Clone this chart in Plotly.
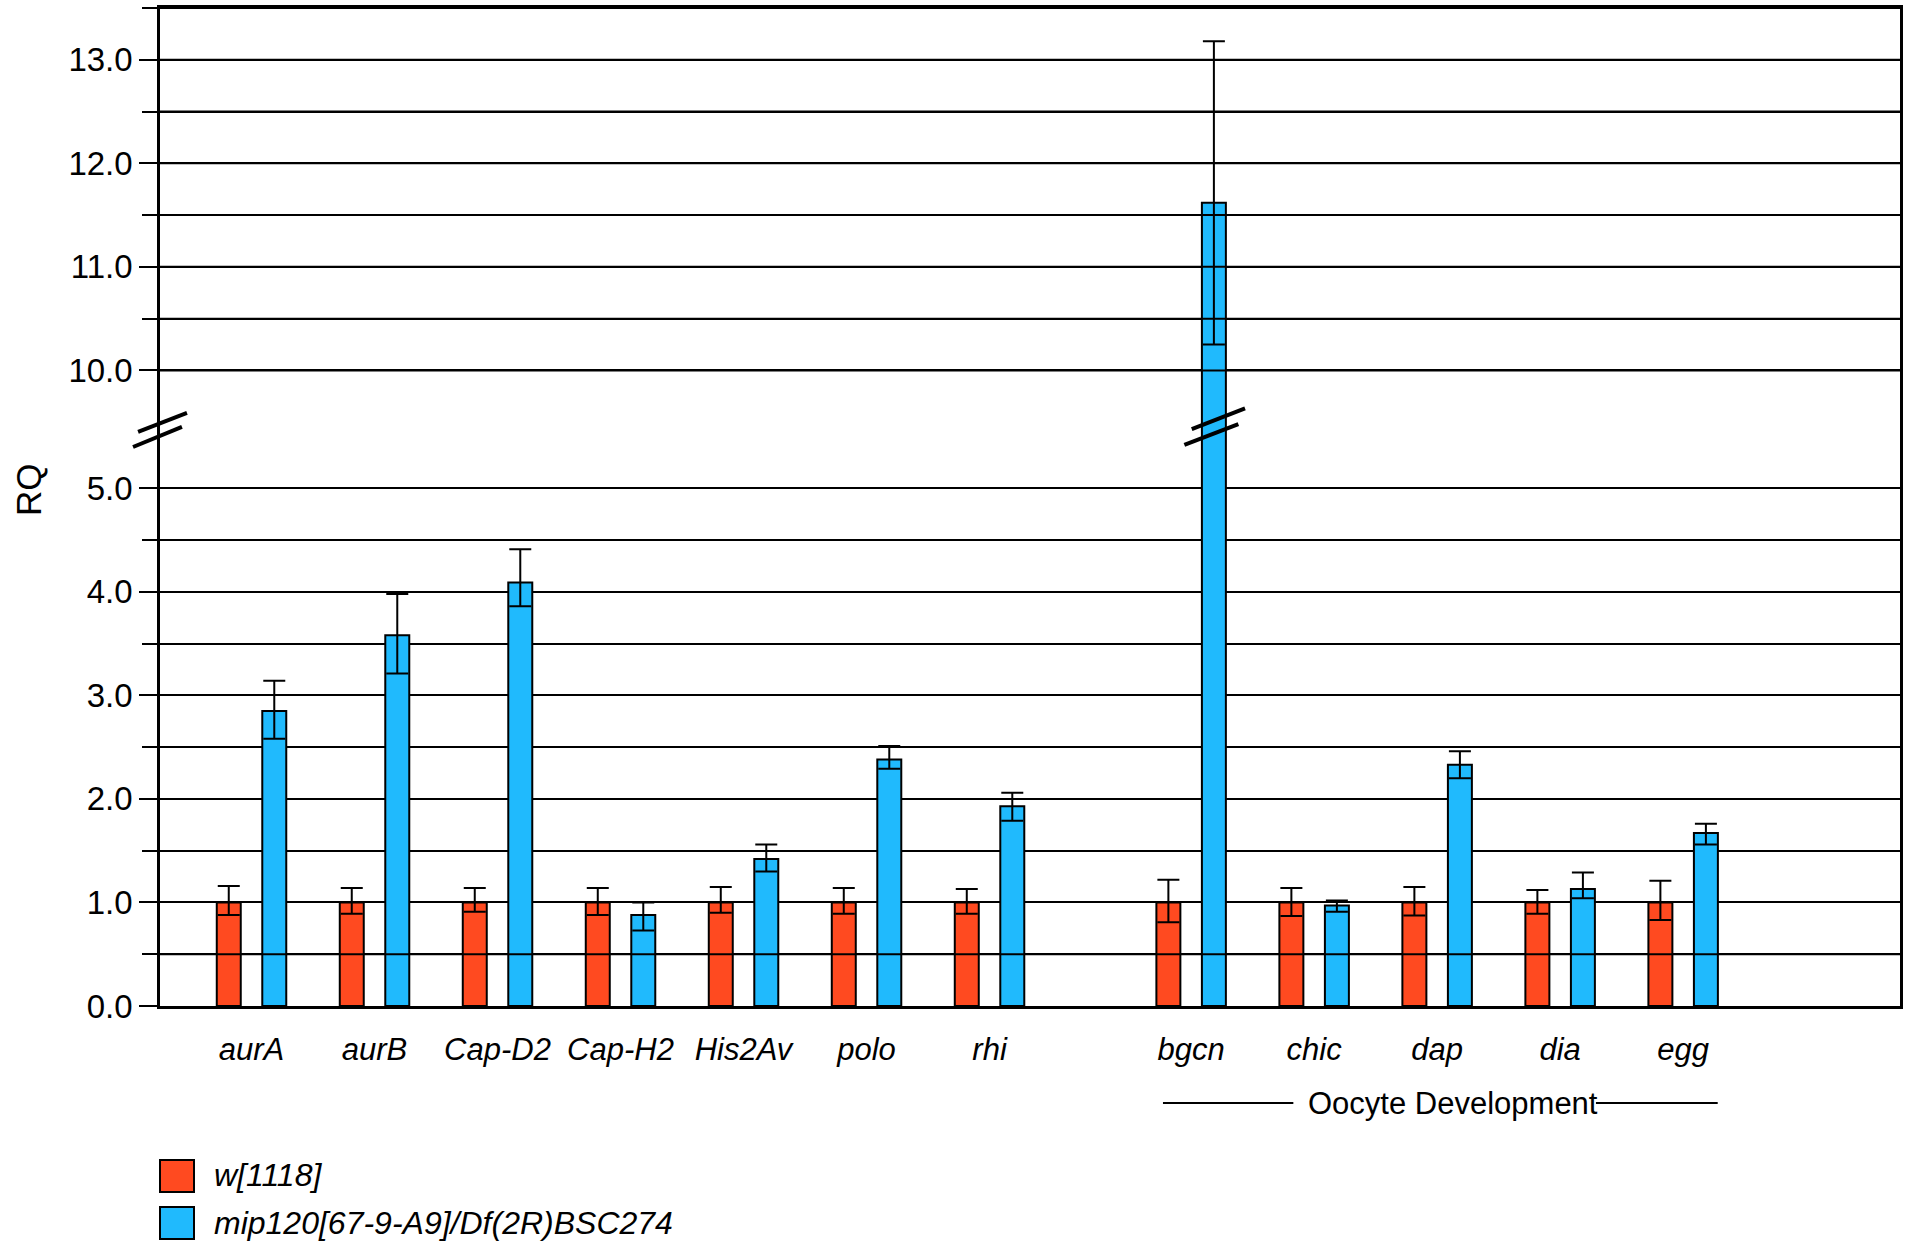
import plotly.graph_objects as go

# ---------------- data ----------------
genes = ["aurA", "aurB", "Cap-D2", "Cap-H2", "His2Av", "polo", "rhi",
         "bgcn", "chic", "dap", "dia", "egg"]
w1118 = [1.00, 1.00, 1.00, 1.00, 1.00, 1.00, 1.00, 1.00, 1.00, 1.00, 1.00, 1.00]
w1118_hi = [1.16, 1.14, 1.14, 1.14, 1.15, 1.14, 1.13, 1.22, 1.14, 1.15, 1.12, 1.21]
w1118_lo = [0.88, 0.89, 0.91, 0.88, 0.90, 0.89, 0.89, 0.81, 0.87, 0.875, 0.89, 0.83]
mip120 = [2.85, 3.58, 4.09, 0.88, 1.42, 2.38, 1.93, 11.62, 0.97, 2.33, 1.13, 1.67]
mip120_hi = [3.14, 3.98, 4.41, 1.00, 1.56, 2.51, 2.06, 13.18, 1.02, 2.46, 1.29, 1.76]
mip120_lo = [2.58, 3.21, 3.86, 0.73, 1.30, 2.29, 1.79, 10.25, 0.91, 2.20, 1.04, 1.56]
lower_ticks = [0.0, 1.0, 2.0, 3.0, 4.0, 5.0]
upper_ticks = [10.0, 11.0, 12.0, 13.0]
lower_minor = [0.5, 1.5, 2.5, 3.5, 4.5]
upper_minor = [10.5, 11.5, 12.5, 13.5]
series_names = ["w[1118]", "mip120[67-9-A9]/Df(2R)BSC274"]
group_label = "Oocyte Development"

# ---------------- styling / layout helpers ----------------
RED = "#FF4A20"
BLUE = "#20BAFD"
FONT = "Liberation Sans, Arial, sans-serif"
BREAK_AT = 5.6      # values above this are in the upper (broken) segment
SHIFT = 3.862       # amount removed from upper-segment values
TOP = 13.5


def tr(v):
    return v - SHIFT if v > BREAK_AT else v


OOCYTE_START = 7
GAP = 0.639
pos = [i if i < OOCYTE_START else i + GAP for i in range(len(genes))]
OFF = 0.185
BW = 0.195

x_red = [p - OFF for p in pos]
x_blue = [p + OFF for p in pos]


def bars(vals, hi, lo):
    y = [tr(v) for v in vals]
    up = [tr(h) - tr(v) for v, h in zip(vals, hi)]
    dn = [tr(v) - tr(l) for v, l in zip(vals, lo)]
    return y, up, dn


yr, ur, dr = bars(w1118, w1118_hi, w1118_lo)
yb, ub, db = bars(mip120, mip120_hi, mip120_lo)

err = dict(type="data", symmetric=False, color="black", thickness=2, width=11)

fig = go.Figure()
fig.add_trace(go.Bar(
    x=x_red, y=yr, width=BW, name=series_names[0],
    marker=dict(color=RED, line=dict(color="black", width=2)),
    error_y=dict(array=ur, arrayminus=dr, **err), showlegend=False))
fig.add_trace(go.Bar(
    x=x_blue, y=yb, width=BW, name=series_names[1],
    marker=dict(color=BLUE, line=dict(color="black", width=2)),
    error_y=dict(array=ub, arrayminus=db, **err), showlegend=False))

major_vals = [tr(v) for v in lower_ticks + upper_ticks]
major_text = [f"{v:.1f}" for v in lower_ticks + upper_ticks]
minor_vals = [tr(v) for v in lower_minor + upper_minor]

shapes = []
# grid lines that are drawn over the bars in the original
for v in [0.5] + upper_ticks + upper_minor:
    shapes.append(dict(type="line", xref="paper", x0=0, x1=1, yref="y",
                       y0=tr(v), y1=tr(v), layer="above",
                       line=dict(color="black", width=2)))

# axis-break marks on the y axis
for (x0, y0, x1, y1) in [(-0.0126, 0.5752, 0.0155, 0.5942),
                         (-0.0155, 0.5601, 0.0126, 0.5802)]:
    shapes.append(dict(type="line", xref="paper", yref="paper",
                       x0=x0, y0=y0, x1=x1, y1=y1, layer="above",
                       line=dict(color="black", width=4)))
# axis-break marks on the bgcn bar
bx = x_blue[OOCYTE_START]
for (dx0, y0, dx1, y1) in [(-0.18, 5.572, 0.253, 5.772),
                           (-0.24, 5.418, 0.199, 5.620)]:
    shapes.append(dict(type="line", xref="x", yref="y",
                       x0=bx + dx0, y0=y0, x1=bx + dx1, y1=y1, layer="above",
                       line=dict(color="black", width=4)))

# "Oocyte Development" bracket lines
GY = -0.0972
shapes.append(dict(type="line", xref="x", yref="paper", x0=7.41, x1=8.47,
                   y0=GY, y1=GY, line=dict(color="black", width=2)))
shapes.append(dict(type="line", xref="x", yref="paper", x0=10.93, x1=11.92,
                   y0=GY, y1=GY, line=dict(color="black", width=2)))

# manual legend squares
PW, PH = 1740.0, 998.0
def px_x(p):
    return (p - 160) / PW
def px_y(p):
    return (1006 - p) / PH

for col, (t, b) in zip([RED, BLUE], [(1160, 1192), (1207, 1239)]):
    shapes.append(dict(type="rect", xref="paper", yref="paper",
                       x0=px_x(160), x1=px_x(194), y0=px_y(b), y1=px_y(t),
                       fillcolor=col, line=dict(color="black", width=2)))

annotations = [
    dict(text=group_label, xref="x", yref="paper", x=9.77, y=GY,
         showarrow=False, xanchor="center", yanchor="middle",
         font=dict(family=FONT, size=31, color="black")),
    dict(text="RQ", xref="paper", yref="paper", x=px_x(28), y=px_y(490),
         showarrow=False, textangle=-90, xanchor="center", yanchor="middle",
         font=dict(family=FONT, size=35, color="black")),
]
for name, yc in zip(series_names, [1175, 1223]):
    annotations.append(dict(text=name, xref="paper", yref="paper",
                            x=px_x(212), y=px_y(yc), showarrow=False,
                            xanchor="left", yanchor="middle",
                            font=dict(family=FONT, size=32, color="black",
                                      style="italic")))

fig.update_layout(
    width=1910, height=1242,
    margin=dict(l=160, r=10, t=8, b=236, autoexpand=False),
    paper_bgcolor="white", plot_bgcolor="white",
    barmode="overlay",
    shapes=shapes, annotations=annotations,
    showlegend=False,
    font=dict(family=FONT, color="black"),
)
fig.update_xaxes(
    range=[-0.744, 13.402], tickmode="array", tickvals=pos, ticktext=genes,
    ticks="", showgrid=False, zeroline=False,
    showline=True, linecolor="black", linewidth=2.5, mirror=True,
    tickfont=dict(family=FONT, size=31, color="black", style="italic"),
    ticklabelstandoff=14,
)
fig.update_yaxes(
    range=[0, tr(TOP)], tickmode="array", tickvals=major_vals, ticktext=major_text,
    ticks="outside", ticklen=18, tickwidth=2, tickcolor="black",
    showgrid=True, gridcolor="black", gridwidth=2, zeroline=False,
    showline=True, linecolor="black", linewidth=2.5, mirror=True,
    tickfont=dict(family=FONT, size=33, color="black"),
    minor=dict(tickmode="array", tickvals=minor_vals, ticks="outside",
               ticklen=15, tickwidth=2, tickcolor="black",
               showgrid=True, gridcolor="black", gridwidth=2),
)

fig.write_html("out.html")
